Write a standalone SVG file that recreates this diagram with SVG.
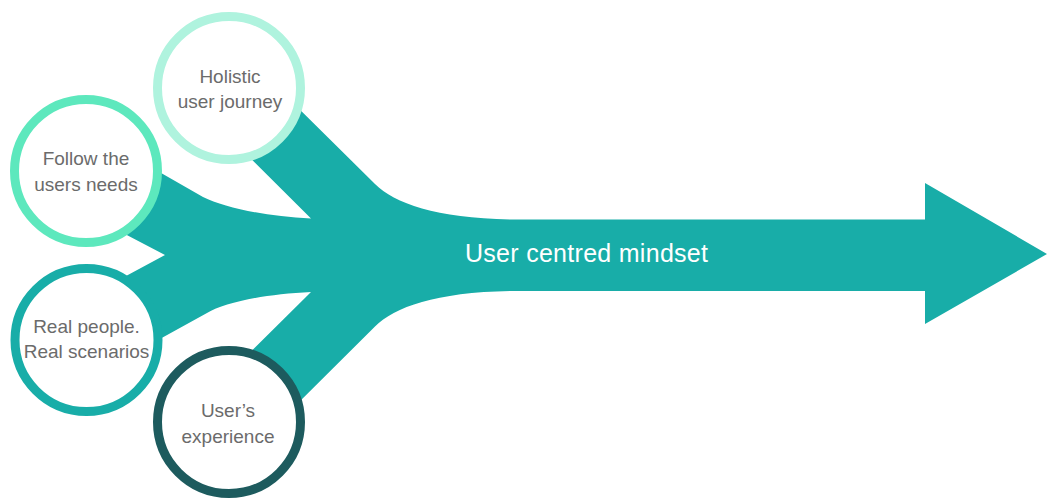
<svg xmlns="http://www.w3.org/2000/svg" width="1059" height="498" viewBox="0 0 1059 498">
  <style>
    .flow { fill: #18ada8; }
    .ring { fill: #ffffff; stroke-width: 9; }
    .label { font-family: "Liberation Sans", Arial, sans-serif; font-size: 19px; fill: #6b6b6b; text-anchor: middle; }
    .title { font-family: "Liberation Sans", Arial, sans-serif; font-size: 25px; fill: #ffffff; }
  </style>

  <rect width="1059" height="498" fill="#ffffff"/>

  <!-- four streams merging into one arrow -->
  <g id="connectors">
    <path class="flow" d="M 280,90 L 375,184 C 395,204 440,219.5 520,219.5 L 925,219.5 L 925,183 L 1047,254 L 925,324 L 925,291 L 520,291 C 440,291 395,306.5 375,326.5 L 280,421 L 180,422 L 311,292 C 265,294 225,302.5 207,313 L 100,372 L 100,290 L 165,255 L 100,221 L 100,138 L 203,197 C 225,208 265,216 311,218.5 L 200,108 Z"/>
    <text class="title" x="465" y="262" textLength="243" lengthAdjust="spacing">User centred mindset</text>
  </g>

  <g id="node-holistic">
    <circle class="ring" cx="229" cy="88" r="71.5" stroke="#aff3de"/>
    <text class="label" x="230" y="83">Holistic</text>
    <text class="label" x="230" y="108">user journey</text>
  </g>

  <g id="node-needs">
    <circle class="ring" cx="86" cy="171" r="71.5" stroke="#5de8bd"/>
    <text class="label" x="86" y="165">Follow the</text>
    <text class="label" x="86" y="191">users needs</text>
  </g>

  <g id="node-real">
    <circle class="ring" cx="86.5" cy="340" r="71.5" stroke="#18ada8"/>
    <text class="label" x="86.5" y="333">Real people.</text>
    <text class="label" x="86.5" y="358">Real scenarios</text>
  </g>

  <g id="node-experience">
    <circle class="ring" cx="229" cy="422" r="71.5" stroke="#1d5b5e"/>
    <text class="label" x="228" y="417">User’s</text>
    <text class="label" x="228" y="443">experience</text>
  </g>
</svg>
